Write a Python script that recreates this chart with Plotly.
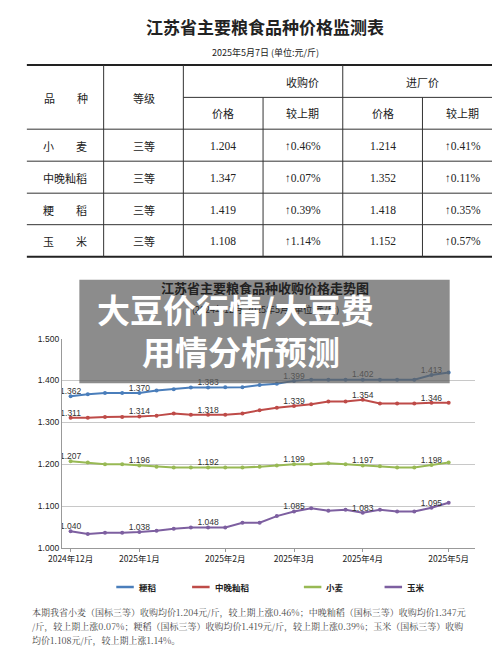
import plotly.graph_objects as go

W, H = 500, 648
series_names = ["粳稻", "中晚籼稻", "小麦", "玉米"]
series_colors = ["#4a7ebb", "#be4b48", "#98b954", "#7d5fa0"]
japonica = [1.362,1.367,1.370,1.370,1.370,1.376,1.379,1.383,1.383,1.384,1.384,1.389,1.392,1.399,1.402,1.402,1.402,1.402,1.402,1.402,1.402,1.413,1.419]
indica = [1.311,1.311,1.313,1.313,1.314,1.316,1.321,1.318,1.318,1.318,1.321,1.329,1.335,1.339,1.343,1.350,1.350,1.354,1.345,1.345,1.345,1.347,1.347]
wheat = [1.207,1.204,1.200,1.200,1.197,1.194,1.192,1.192,1.192,1.192,1.192,1.194,1.197,1.200,1.200,1.202,1.200,1.197,1.195,1.192,1.192,1.198,1.204]
corn = [1.040,1.033,1.036,1.036,1.038,1.041,1.046,1.049,1.049,1.049,1.060,1.060,1.076,1.087,1.095,1.089,1.091,1.084,1.091,1.087,1.087,1.096,1.108]
label_points = [0,4,8,13,17,21]
label_vals = [[1.362,1.370,1.383,1.399,1.402,1.413],[1.311,1.314,1.318,1.339,1.354,1.346],
              [1.207,1.196,1.192,1.199,1.197,1.198],[1.040,1.038,1.048,1.085,1.083,1.095]]
xtick_vals = [0,4,9,13,17,22]
xtick_text = ["2024年12月","2025年1月","2025年2月","2025年3月","2025年4月","2025年5月"]
ytick_vals = [1.0,1.1,1.2,1.3,1.4,1.5]

table_header1 = ["品　　种", "等级", "收购价", "进厂价"]
table_header2 = ["价格", "较上期", "价格", "较上期"]
table_rows = [["小　　麦","三等","1.204","↑0.46%","1.214","↑0.41%"],
              ["中晚籼稻","三等","1.347","↑0.07%","1.352","↑0.11%"],
              ["粳　　稻","三等","1.419","↑0.39%","1.418","↑0.35%"],
              ["玉　　米","三等","1.108","↑1.14%","1.152","↑0.57%"]]

def px(x): return x / W
def py(y): return 1 - y / H

fig = go.Figure()
all_series = [japonica, indica, wheat, corn]
xs = list(range(len(japonica)))
for name, vals, col, lv in zip(series_names, all_series, series_colors, label_vals):
    fig.add_trace(go.Scatter(x=xs, y=vals, name=name, mode="lines+markers",
                             line=dict(color=col, width=2), marker=dict(size=4, color=col),
                             showlegend=False))
    fig.add_trace(go.Scatter(x=label_points, y=[vals[i] for i in label_points], mode="text",
                             text=[f"{v:.3f}" for v in lv], textposition="top center",
                             textfont=dict(size=8.5, color="#333", family="Liberation Sans"),
                             showlegend=False, hoverinfo="skip"))

shapes, ann = [], []
cols = [5, 84, 166, 248, 330, 412, 495]
shapes.append(dict(type="line", xref="paper", yref="paper", x0=px(5), x1=px(495), y0=py(52.7), y1=py(52.7), line=dict(color="#222", width=2)))
shapes.append(dict(type="line", xref="paper", yref="paper", x0=px(5), x1=px(495), y0=py(247.5), y1=py(247.5), line=dict(color="#222", width=2)))
shapes.append(dict(type="line", xref="paper", yref="paper", x0=px(166), x1=px(495), y0=py(85.7), y1=py(85.7), line=dict(color="#333", width=1)))
for y in [118, 150.5, 183, 215]:
    shapes.append(dict(type="line", xref="paper", yref="paper", x0=px(5), x1=px(495), y0=py(y), y1=py(y), line=dict(color="#333", width=1)))
for x in cols[1:-1]:
    y0 = 85.7 if x in (248, 412) else 52.7
    shapes.append(dict(type="line", xref="paper", yref="paper", x0=px(x), x1=px(x), y0=py(y0), y1=py(247.5), line=dict(color="#333", width=1)))

def txt(x, y, s, size=11, color="#222", bold=False, family="Noto Sans CJK SC", xanchor="center"):
    ann.append(dict(xref="paper", yref="paper", x=px(x), y=py(y), text=f"<b>{s}</b>" if bold else s,
                    showarrow=False, xanchor=xanchor, yanchor="middle",
                    font=dict(size=size, color=color, family=family)))

txt(250, 14, "江苏省主要粮食品种价格监测表", size=17, bold=True)
txt(250, 40, "2025年5月7日 (单位:元/斤)", size=9)
txt(45, 86, table_header1[0], size=11)
txt(125, 86, table_header1[1], size=11)
txt(289, 70, table_header1[2], size=11)
txt(412, 70, table_header1[3], size=11)
for i, h in enumerate(table_header2):
    txt((cols[i+2]+cols[i+3])/2, 102, h, size=11)
for r, row in enumerate(table_rows):
    yc = 135 + r * 32.3
    for c, v in enumerate(row):
        txt((cols[c]+cols[c+1])/2, yc, v, size=11.5 if c >= 2 else 11,
            family="Liberation Serif, Noto Sans CJK SC" if c >= 2 else "Noto Sans CJK SC")

txt(250, 279, "江苏省主要粮食品种收购价格走势图", size=13, bold=True)
txt(250, 301, "(2024年12月-2025年5月 (单位:元/斤)", size=9)

lx = [97, 175, 290, 373]
for x, name, col in zip(lx, series_names, series_colors):
    shapes.append(dict(type="line", xref="paper", yref="paper", x0=px(x), x1=px(x+18), y0=py(583), y1=py(583), line=dict(color=col, width=2.5)))
    txt(x + 21, 583, f"<b>{name}</b>", size=8.5, xanchor="left")

bottom_lines = ["本期我省小麦（国标三等）收购均价1.204元/斤，较上期上涨0.46%；中晚籼稻（国标三等）收购均价1.347元",
                "/斤，较上期上涨0.07%；粳稻（国标三等）收购均价1.419元/斤，较上期上涨0.39%；玉米（国标三等）收购",
                "均价1.108元/斤，较上期上涨1.14%。"]
for i, s in enumerate(bottom_lines):
    txt(8, 609 + i * 14, s, size=9, color="#444", family="Noto Serif CJK SC, Liberation Serif, serif", xanchor="left")

shapes.append(dict(type="rect", xref="paper", yref="paper", x0=px(59), x1=px(440), y0=py(376), y1=py(271),
                   fillcolor="rgba(95,95,95,0.72)", line=dict(width=0), layer="above"))
ann.append(dict(xref="paper", yref="paper", x=px(75), y=py(301), text="<b>大豆价行情/大豆费</b>", showarrow=False,
                xanchor="left", yanchor="middle", font=dict(size=33, color="white", family="Noto Sans CJK SC")))
ann.append(dict(xref="paper", yref="paper", x=px(121), y=py(343), text="<b>用情分析预测</b>", showarrow=False,
                xanchor="left", yanchor="middle", font=dict(size=33, color="white", family="Noto Sans CJK SC")))

fig.update_layout(
    width=W, height=H, margin=dict(l=0, r=0, t=0, b=0),
    paper_bgcolor="white", plot_bgcolor="white",
    shapes=shapes, annotations=ann,
    xaxis=dict(domain=[px(41), px(466)], range=[-0.51, 23.53], tickvals=xtick_vals, ticktext=xtick_text,
               showgrid=False, showline=True, linecolor="#999", ticks="outside", ticklen=3, tickcolor="#999",
               tickfont=dict(size=8.5, color="#222", family="Noto Sans CJK SC"), zeroline=False),
    yaxis=dict(domain=[py(543.3), py(330.7)], range=[1.0, 1.5], tickvals=ytick_vals,
               tickformat=".3f", showgrid=True, gridcolor="#c8c8c8", showline=True, linecolor="#999",
               tickfont=dict(size=8.5, color="#222", family="Liberation Sans"), zeroline=False),
)
fig.write_html("out.html")
